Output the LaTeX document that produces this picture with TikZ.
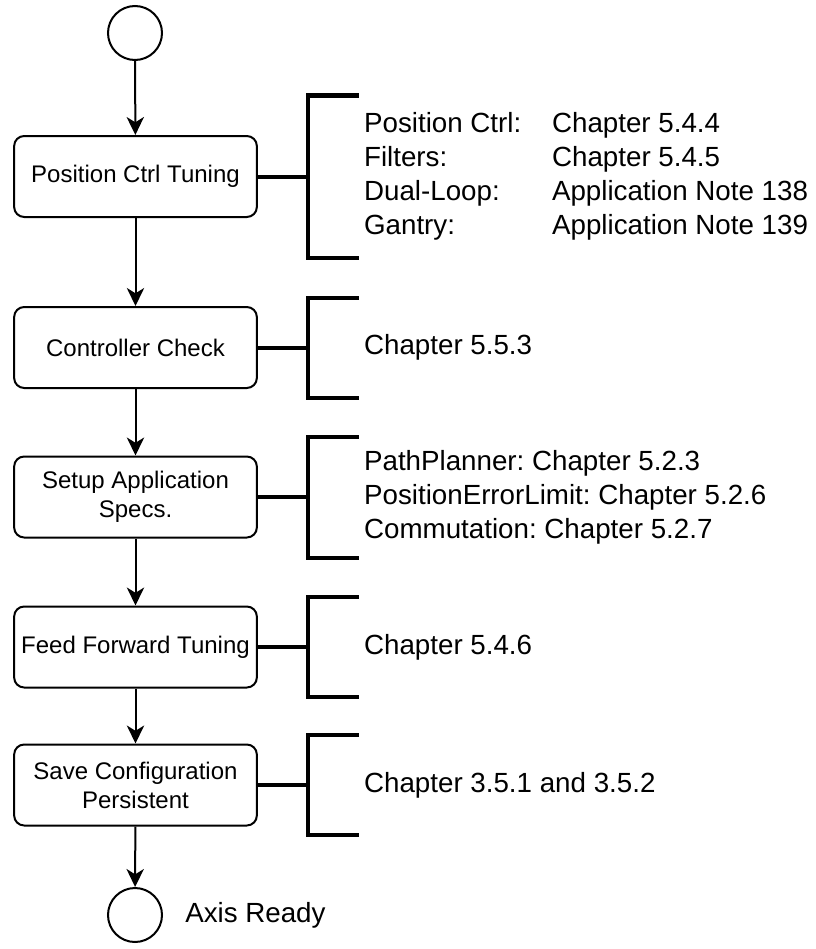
\documentclass[tikz,border=0pt]{standalone}
\usepackage{fontspec}
\setmainfont{Liberation Sans}
\usetikzlibrary{arrows.meta,calc}
\begin{document}
\frenchspacing
\begin{tikzpicture}[x=0.75pt,y=-0.75pt,
  stepbox/.style={draw,line width=1.5pt,rounded corners=7.5pt,minimum width=182pt,minimum height=60.75pt,inner sep=0pt,align=center,font=\fontsize{18pt}{21.75pt}\selectfont},
  term/.style={draw,line width=1.5pt,circle,minimum size=40.5pt,inner sep=0pt},
  flow/.style={line width=1.5pt,-{Stealth[length=13.5pt,width=13pt,inset=4pt]}},
  brk/.style={line width=3pt,line join=miter},
  reftext/.style={anchor=west,inner sep=0pt,align=left,font=\fontsize{20.8pt}{25.5pt}\selectfont}
]
\useasboundingbox (0,0) rectangle (816,949);

\node[term] (start) at (135,33) {};
\node[stepbox] (b1) at (135.5,176.5) {Position Ctrl Tuning};
\node[stepbox] (b2) at (135.5,347.5) {Controller Check};
\node[stepbox] (b3) at (135.5,497) {Setup Application\\Specs.};
\node[stepbox] (b4) at (135.5,647) {Feed Forward Tuning};
\node[stepbox] (b5) at (135.5,785) {Save Configuration\\Persistent};
\node[term] (stop) at (135,915) {};
\node[anchor=west,inner sep=0pt,font=\fontsize{20.8pt}{25.5pt}\selectfont] (ready) at (185,915) {Axis Ready};

\draw[flow] (start) -- (b1);
\draw[flow] (b1) -- (b2);
\draw[flow] (b2) -- (b3);
\draw[flow] (b3) -- (b4);
\draw[flow] (b4) -- (b5);
\draw[flow] (b5) -- (stop);

% bracket joints
\coordinate (k1) at ($(b1.east)+(50,0)$);
\coordinate (k2) at ($(b2.east)+(50,0)$);
\coordinate (k3) at ($(b3.east)+(50,0)$);
\coordinate (k4) at ($(b4.east)+(50,0)$);
\coordinate (k5) at ($(b5.east)+(50,0)$);

\draw[brk] (b1.east) -- (k1);
\draw[brk] ($(k1)+(51,-81)$) -- ($(k1)+(0,-81)$) -- ($(k1)+(0,81)$) -- ($(k1)+(51,81)$);
\draw[brk] (b2.east) -- (k2);
\draw[brk] ($(k2)+(51,-50)$) -- ($(k2)+(0,-50)$) -- ($(k2)+(0,50)$) -- ($(k2)+(51,50)$);
\draw[brk] (b3.east) -- (k3);
\draw[brk] ($(k3)+(51,-60.5)$) -- ($(k3)+(0,-60.5)$) -- ($(k3)+(0,60.5)$) -- ($(k3)+(51,60.5)$);
\draw[brk] (b4.east) -- (k4);
\draw[brk] ($(k4)+(51,-50)$) -- ($(k4)+(0,-50)$) -- ($(k4)+(0,50)$) -- ($(k4)+(51,50)$);
\draw[brk] (b5.east) -- (k5);
\draw[brk] ($(k5)+(51,-50)$) -- ($(k5)+(0,-50)$) -- ($(k5)+(0,50)$) -- ($(k5)+(51,50)$);

\node[reftext] (t1) at ($(k1)+(56,0)$) {\makebox[141pt][l]{Position Ctrl:}Chapter 5.4.4\\
\makebox[141pt][l]{Filters:}Chapter 5.4.5\\
\makebox[141pt][l]{Dual-Loop:}Application Note 138\\
\makebox[141pt][l]{Gantry:}Application Note 139};
\node[reftext] (t2) at ($(k2)+(56,0)$) {Chapter 5.5.3};
\node[reftext] (t3) at ($(k3)+(56,0)$) {PathPlanner: Chapter 5.2.3\\PositionErrorLimit: Chapter 5.2.6\\Commutation: Chapter 5.2.7};
\node[reftext] (t4) at ($(k4)+(56,0)$) {Chapter 5.4.6};
\node[reftext] (t5) at ($(k5)+(56,0)$) {Chapter 3.5.1 and 3.5.2};
\end{tikzpicture}
\end{document}
